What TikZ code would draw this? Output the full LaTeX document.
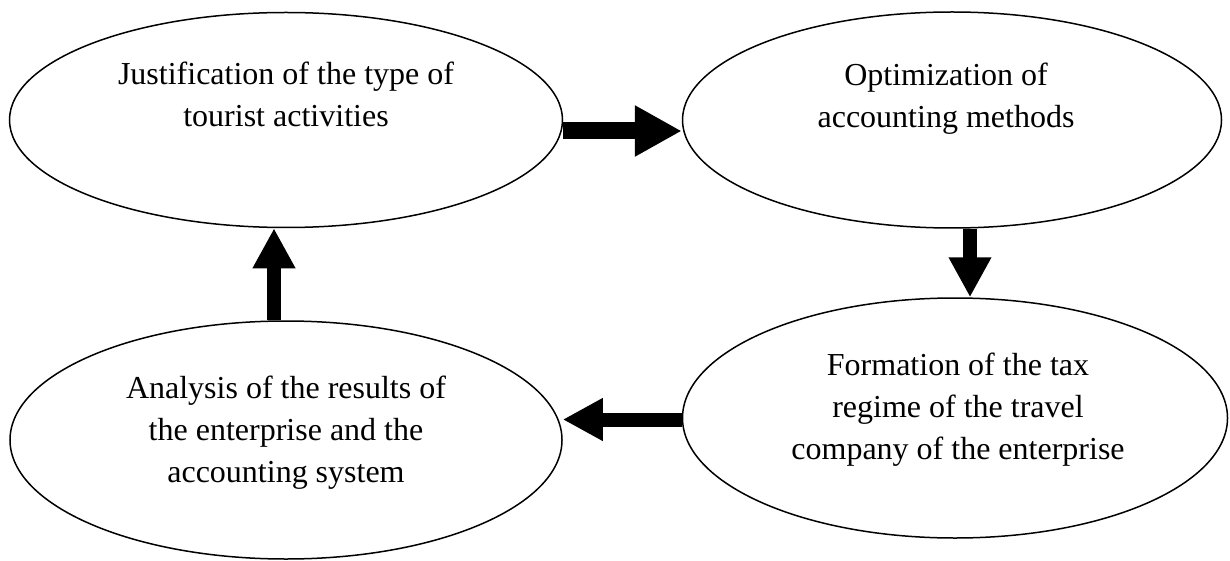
\documentclass[tikz,border=0pt]{standalone}
\usepackage{fontspec}
\setmainfont{Liberation Serif}
\usetikzlibrary{shapes.geometric,arrows.meta}
\tikzset{
  oval/.style={draw=black, line width=1.5pt, ellipse, inner sep=0pt, fill=white},
  lbl/.style={align=center, inner sep=0pt, font=\fontsize{32}{42}\selectfont},
  blockarrow/.style={line width=14pt, -{Triangle[length=40pt,width=40pt]}},
  bigarrow/.style={line width=17pt, -{Triangle[length=47pt,width=48pt]}}
}
\begin{document}
\begin{tikzpicture}[x=1pt,y=-1pt]
\useasboundingbox (0,0) rectangle (1230,561);
\node[oval, minimum width=553pt, minimum height=215pt] (e1) at (286,120) {};
\node[oval, minimum width=539pt, minimum height=216pt] (e2) at (952,120) {};
\node[oval, minimum width=545pt, minimum height=240pt] (e3) at (955,418) {};
\node[oval, minimum width=552pt, minimum height=238pt] (e4) at (286,440) {};
\node[lbl] (t1) at (286,97.6) {\strut Justification of the type of\\\strut tourist activities};
\node[lbl] (t2) at (946,98) {\strut Optimization of\\\strut accounting methods};
\node[lbl] (t3) at (958,408.6) {\strut Formation of the tax\\\strut regime of the travel\\\strut company of the enterprise};
\node[lbl] (t4) at (286,431.6) {\strut Analysis of the results of\\\strut the enterprise and the\\\strut accounting system};
\draw[bigarrow] ([yshift=-11pt]e1.east) -- ([yshift=-11pt]e2.west);
\draw[blockarrow] ([xshift=18pt]e2.south) -- ([xshift=15pt]e3.north);
\draw[blockarrow] ([yshift=-1.5pt]e3.west) -- ([yshift=20.5pt]e4.east);
\draw[blockarrow] ([xshift=-12pt]e4.north) -- ([xshift=-12pt]e1.south);
\end{tikzpicture}
\end{document}
